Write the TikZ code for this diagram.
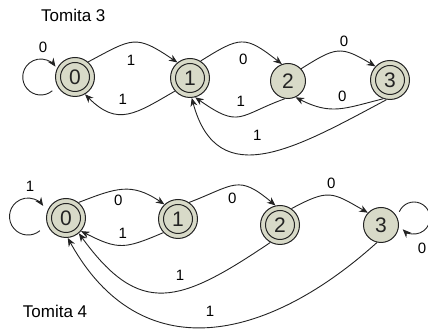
\documentclass[tikz,border=0pt]{standalone}
\usepackage{fontspec}
\setmainfont{Liberation Sans}
\usetikzlibrary{arrows.meta}
\definecolor{nodefill}{RGB}{216,218,200}
\definecolor{linecol}{RGB}{35,35,35}
\begin{document}
\begin{tikzpicture}[x=1pt,y=1pt,
  st/.style={circle,draw=linecol,fill=nodefill,line width=1pt,minimum size=35pt,inner sep=0pt,
    text=linecol,font=\fontsize{21}{21}\selectfont},
  acc/.style={st,minimum size=39pt,
    path picture={\draw[linecol,line width=1pt] (path picture bounding box.center) circle (14.5pt);}},
  tr/.style={draw=linecol,line width=0.9pt,-{Stealth[length=8.5pt,width=7pt]}},
  lbl/.style={font=\fontsize{15}{15}\selectfont,inner sep=0pt},
  ttl/.style={font=\fontsize{17}{17}\selectfont,inner sep=0pt}]
\useasboundingbox (0,0) rectangle (428,331);

% ---------- Tomita 3 ----------
\node[ttl] (title3) at (73.3,315.5) {Tomita 3};
\node[acc] (t0) at (75,254) {0};
\node[acc] (t1) at (190,253) {1};
\node[st]  (t2) at (288,250) {2};
\node[acc] (t3) at (390,251) {3};

\coordinate (l0s) at ([shift={(-22.7,-13.8)}]t0.center);
\draw[tr] (l0s) arc[start angle=-50,end angle=-325,radius=18];

\draw[tr] (t0.49) .. controls +(28:51) and +(146:51) .. (t1.129);
\draw[tr] (t1.-139) .. controls +(210:46) and +(-45:46) .. (t0.-60);
\draw[tr] (t1.58) .. controls +(32:47) and +(142:47) .. (t2.110);
\draw[tr] (t2.-100) .. controls +(200:50) and +(-35:55) .. (t1.-75);
\draw[tr] (t2.43) .. controls +(32:41) and +(149:41) .. (t3.137);
\draw[tr] (t3.-110) .. controls +(194:40) and +(-27:40) .. (t2.-65);
\draw[tr] (t3.-100) .. controls +(208:100) and +(-75:100) .. (t1.-85);

\node[lbl] (e1) at (43,284) {0};
\node[lbl] (e2) at (131,271) {1};
\node[lbl] (e3) at (122.7,232) {1};
\node[lbl] (e4) at (243.3,271.7) {0};
\node[lbl] (e5) at (240.7,229.3) {1};
\node[lbl] (e6) at (344,289.3) {0};
\node[lbl] (e7) at (342.3,235) {0};
\node[lbl] (e8) at (257.3,196) {1};

% ---------- Tomita 4 ----------
\node[ttl] (title4) at (55,19.3) {Tomita 4};
\node[acc] (b0) at (66,113) {0};
\node[acc] (b1) at (178,112) {1};
\node[acc] (b2) at (280,106) {2};
\node[st]  (b3) at (381,106) {3};

\coordinate (l1s) at ([shift={(-26.1,-12.7)}]b0.center);
\draw[tr] (l1s) arc[start angle=-50,end angle=-325,radius=18.5];
\coordinate (l2s) at ([shift={(18.3,13.25)}]b3.center);
\draw[tr] (l2s) arc[start angle=157,end angle=-135,radius=16];

\draw[tr] (b0.51) .. controls +(21:40) and +(146:40) .. (b1.133);
\draw[tr] (b1.-137) .. controls +(203:42) and +(-27:42) .. (b0.-41);
\draw[tr] (b1.56) .. controls +(21:49) and +(140:49) .. (b2.103);
\draw[tr] (b2.55) .. controls +(28:42) and +(150:42) .. (b3.137);
\draw[tr] (b2.-119) .. controls +(214:110) and +(-54:104) .. (b0.-50);
\draw[tr] (b3.-103) .. controls +(222:150) and +(-61:150) .. (b0.-85);

\node[lbl] (f1) at (30,144.3) {1};
\node[lbl] (f2) at (118.3,131) {0};
\node[lbl] (f3) at (122.7,97.7) {1};
\node[lbl] (f4) at (232.3,132.7) {0};
\node[lbl] (f5) at (331.3,147.7) {0};
\node[lbl] (f6) at (422,82.7) {0};
\node[lbl] (f7) at (180,56) {1};
\node[lbl] (f8) at (210,19.3) {1};
\end{tikzpicture}
\end{document}
